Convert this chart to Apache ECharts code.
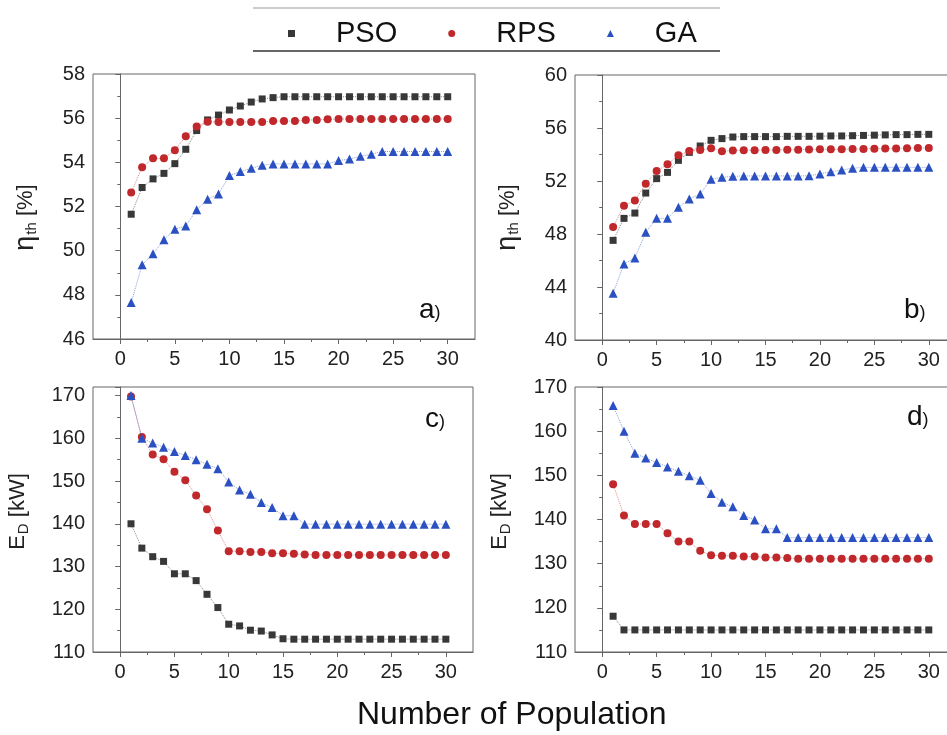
<!DOCTYPE html>
<html>
<head>
<meta charset="utf-8">
<title>Number of Population</title>
<style>
    html, body { margin: 0; padding: 0; background: #fff; overflow: hidden; }
    #container { width: 962px; height: 735px; }
</style>
</head>
<body>
<div id="container"></div>
<script src="https://cdn.jsdelivr.net/npm/echarts@6/dist/echarts.min.js"></script>
<script type="text/javascript">
    var pop = [1,2,3,4,5,6,7,8,9,10,11,12,13,14,15,16,17,18,19,20,21,22,23,24,25,26,27,28,29,30];
    var xTicks = [0, 5, 10, 15, 20, 25, 30];
    var xMinorTicks = [2.5, 7.5, 12.5, 17.5, 22.5, 27.5];

    // a) eta_th, case 1
    var psoA = [51.65,52.86,53.25,53.5,53.94,54.59,55.44,55.92,56.14,56.37,56.55,56.73,56.87,56.93,56.97,
                56.97,56.97,56.97,56.97,56.97,56.97,56.97,56.97,56.97,56.97,56.97,56.97,56.97,56.97,56.97];
    var rpsA = [52.63,53.78,54.18,54.18,54.55,55.18,55.62,55.84,55.83,55.83,55.83,55.83,55.83,55.87,55.87,
                55.87,55.92,55.92,55.95,55.96,55.96,55.96,55.96,55.96,55.96,55.96,55.96,55.96,55.96,55.96];
    var gaA  = [47.65,49.36,49.86,50.49,50.97,51.12,51.85,52.33,52.57,53.4,53.58,53.73,53.87,53.93,53.93,
                53.93,53.93,53.93,53.93,54.08,54.15,54.27,54.37,54.49,54.49,54.49,54.49,54.49,54.49,54.49];

    // b) eta_th, case 2
    var psoB = [47.52,49.18,49.58,51.09,52.18,52.65,53.56,54.16,54.64,55.07,55.2,55.32,55.35,55.35,55.35,
                55.35,55.37,55.37,55.37,55.38,55.4,55.4,55.42,55.44,55.46,55.48,55.5,55.5,55.52,55.52];
    var rpsB = [48.53,50.14,50.52,51.8,52.75,53.26,53.94,54.26,54.34,54.47,54.24,54.31,54.33,54.33,54.34,
                54.34,54.36,54.36,54.38,54.39,54.4,54.4,54.42,54.42,54.44,54.45,54.46,54.48,54.5,54.5];
    var gaB  = [43.52,45.74,46.19,48.13,49.18,49.18,50.01,50.64,51.02,52.13,52.28,52.35,52.38,52.38,52.38,
                52.38,52.38,52.38,52.4,52.53,52.7,52.83,52.96,53.03,53.03,53.03,53.03,53.03,53.03,53.03];

    // c) E_D, case 1
    var psoC = [140,134.3,132.3,131.2,128.3,128.3,126.7,123.5,120.4,116.5,116.1,115.1,114.9,114.0,113.1,
                113,113,113,113,113,113,113,113,113,113,113,113,113,113,113];
    var rpsC = [169.8,160.3,156.2,155.1,152.2,150.2,146.6,143.4,138.4,133.6,133.6,133.4,133.4,133.1,133.1,
                133.0,132.8,132.7,132.7,132.7,132.7,132.7,132.7,132.7,132.7,132.7,132.7,132.7,132.7,132.7];
    var gaC  = [170,160,158.9,157.9,156.9,156,155,153.9,152.9,149.8,147.9,146.9,145,143.8,141.9,
                141.9,139.9,139.9,139.9,139.9,139.9,139.9,139.9,139.9,139.9,139.9,139.9,139.9,139.9,139.9];

    // d) E_D, case 2
    var psoD = [118.1,115,115,115,115,115,115,115,115,115,115,115,115,115,115,
                115,115,115,115,115,115,115,115,115,115,115,115,115,115,115];
    var rpsD = [148,140.9,139,139,139,136.9,135,135,132.9,131.9,131.8,131.8,131.6,131.6,131.4,
                131.4,131.3,131.1,131.1,131.1,131.1,131.1,131.1,131.1,131.1,131.1,131.1,131.1,131.1,131.1];
    var gaD  = [165.8,160,155,153.9,152.9,151.9,150.9,149.9,148.9,145.9,143.9,142.9,140.9,139.9,137.9,
                137.9,135.9,135.9,135.9,135.9,135.9,135.9,135.9,135.9,135.9,135.9,135.9,135.9,135.9,135.9];

    var colors = { PSO: '#383838', RPS: '#c0282c', GA: '#2a50c2' };
    var lineColors = { PSO: 'rgba(56,56,56,0.6)', RPS: 'rgba(192,40,44,0.55)', GA: 'rgba(42,80,194,0.55)' };
    var symbols = { PSO: 'rect', RPS: 'circle', GA: 'triangle' };
    var sizes = { PSO: 7, RPS: 8, GA: 9 };

    var font = 'Liberation Sans, Arial, sans-serif';
    var axisColor = '#666';

    var dom = document.getElementById('container');
    var myChart = echarts.init(dom);

    // right-hand panels run past the window edge, as in the cropped figure
    var grids = [
        { left: 93, top: 74, width: 382, height: 265 },
        { left: 575, top: 75, width: 381, height: 265 },
        { left: 93, top: 387, width: 380, height: 265 },
        { left: 575, top: 387, width: 381, height: 265 }
    ];
    grids.forEach(function (g) {
        g.show = true;
        g.borderColor = axisColor;
        g.borderWidth = 1;
        g.backgroundColor = 'transparent';
    });

    function mainX(i) {
        return {
            type: 'value', gridIndex: i, min: -2.5, max: 32.5,
            splitLine: { show: false },
            axisLine: { lineStyle: { color: axisColor, width: 1 } },
            axisTick: { show: true, length: 5, customValues: xTicks, lineStyle: { color: axisColor } },
            axisLabel: { customValues: xTicks, margin: 10, fontSize: 20, color: '#222', fontFamily: font }
        };
    }
    function minorX(i) {
        return {
            type: 'value', gridIndex: i, min: -2.5, max: 32.5, position: 'bottom',
            splitLine: { show: false },
            axisLine: { show: false },
            axisTick: { show: true, length: 3, customValues: xMinorTicks, lineStyle: { color: axisColor } },
            axisLabel: { show: false }
        };
    }
    function yAxis(i, min, max, interval, name, gap, pad) {
        return {
            type: 'value', gridIndex: i, min: min, max: max, interval: interval,
            name: name, nameLocation: 'middle', nameRotate: 90, nameGap: gap,
            nameTextStyle: {
                fontSize: 22, color: '#222', fontFamily: font, padding: pad,
                rich: {
                    m: { fontSize: 22, color: '#222', fontFamily: font },
                    g: { fontSize: 27, color: '#222', fontFamily: font },
                    s: { fontSize: 15, color: '#222', fontFamily: font, padding: [12, 0, 0, 1] }
                }
            },
            splitLine: { show: false },
            axisLine: { show: true, lineStyle: { color: axisColor, width: 1 } },
            axisTick: { show: true, length: 5, lineStyle: { color: axisColor } },
            minorTick: { show: true, splitNumber: 2, length: 3, lineStyle: { color: axisColor } },
            axisLabel: {
                margin: 8, fontSize: 20, color: '#222', fontFamily: font,
                formatter: function (v) { return v > 170 ? '' : v; }
            }
        };
    }

    var etaName = '{g|η}{s|th}{m| [%]}';
    var edName = '{m|E}{s|D}{m| [kW]}';

    var series = [];
    function addSeries(name, values, idx) {
        series.push({
            name: name, type: 'line', xAxisIndex: idx, yAxisIndex: idx,
            data: pop.map(function (p, k) { return [p, values[k]]; }),
            symbol: symbols[name], symbolSize: sizes[name],
            itemStyle: { color: colors[name] },
            lineStyle: { color: lineColors[name], width: 1, type: 'dotted' },
            emphasis: { disabled: true },
            z: name === 'GA' ? 3 : (name === 'RPS' ? 2 : 1),
            animation: false
        });
    }
    addSeries('PSO', psoA, 0); addSeries('RPS', rpsA, 0); addSeries('GA', gaA, 0);
    addSeries('PSO', psoB, 1); addSeries('RPS', rpsB, 1); addSeries('GA', gaB, 1);
    addSeries('PSO', psoC, 2); addSeries('RPS', rpsC, 2); addSeries('GA', gaC, 2);
    addSeries('PSO', psoD, 3); addSeries('RPS', rpsD, 3); addSeries('GA', gaD, 3);

    function panelLabel(letter, x, y) {
        return {
            type: 'text', left: x, top: y,
            style: {
                text: '{b|' + letter + '}{s|)}',
                rich: {
                    b: { fontSize: 28, fill: '#111', fontFamily: font },
                    s: { fontSize: 18, fill: '#111', fontFamily: font, padding: [6, 0, 0, 0] }
                }
            }
        };
    }

    myChart.setOption({
        backgroundColor: '#fff',
        animation: false,
        legend: {
            left: 283, top: 14,
            itemWidth: 7, itemHeight: 7, itemGap: 51,
            data: [
                { name: 'PSO', icon: 'rect' },
                { name: 'RPS', icon: 'circle' },
                { name: 'GA', icon: 'triangle' }
            ],
            textStyle: { fontSize: 29, color: '#111', fontFamily: font, padding: [0, 0, 0, 36] },
            selectedMode: false
        },
        grid: grids,
        xAxis: [mainX(0), mainX(1), mainX(2), mainX(3), minorX(0), minorX(1), minorX(2), minorX(3)],
        yAxis: [
            yAxis(0, 46, 58, 2, etaName, 54, [0, 22, 0, 0]),
            yAxis(1, 40, 60, 4, etaName, 54, [0, 20, 0, 0]),
            yAxis(2, 110, 172, 10, edName, 62, [0, 0, 0, 16]),
            yAxis(3, 110, 170, 10, edName, 62, [0, 0, 0, 16])
        ],
        series: series,
        graphic: [
            { type: 'line', shape: { x1: 253, y1: 8, x2: 720, y2: 8 }, style: { stroke: '#999', lineWidth: 1 } },
            { type: 'line', shape: { x1: 253, y1: 51, x2: 720, y2: 51 }, style: { stroke: '#666', lineWidth: 2 } },
            panelLabel('a', 419, 296),
            panelLabel('b', 904, 296),
            panelLabel('c', 425, 405),
            panelLabel('d', 907, 403),
            {
                type: 'text', left: 357, top: 699,
                style: { text: 'Number of Population', fontSize: 32, fill: '#111', fontFamily: font }
            }
        ]
    });
</script>
</body>
</html>
